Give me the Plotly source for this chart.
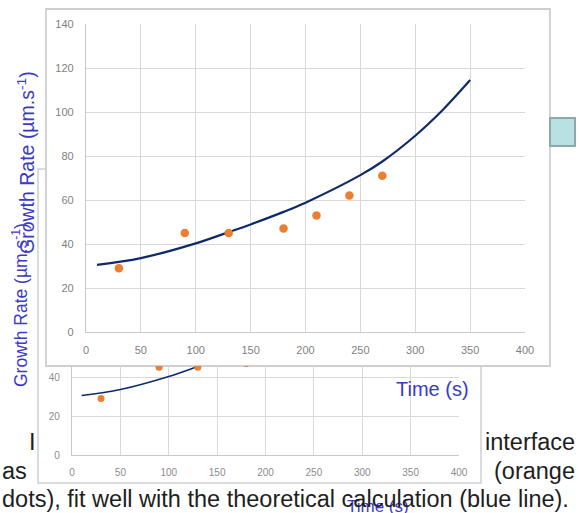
import plotly.graph_objects as go

W, H = 579, 513

# ---- data ----
time_pts = [30, 90, 130, 180, 210, 240, 270]
rate_pts = [29, 45, 45, 47, 53, 62, 71]
time_fit = [10, 50, 100, 130, 150, 180, 200, 250, 270, 300, 325, 350]
rate_fit = [30.5, 33.6, 40.3, 45.4, 48.9, 54.6, 58.8, 71.3, 77.5, 89.2, 100.9, 114.5]
x_ticks = [0, 50, 100, 150, 200, 250, 300, 350, 400]
y_ticks_main = [0, 20, 40, 60, 80, 100, 120, 140]
y_ticks_back = [0, 20, 40]

ORANGE = "#ED7D31"
NAVY = "#0E2A6A"
BLUE = "#3A3AC8"
GRID = "#D9D9D9"
TICK = "#7F7F7F"
FONT = "Liberation Sans"


def fx(p):
    return p / W


def fy(p):
    return 1 - p / H


fig = go.Figure()

# background (partly hidden) chart
fig.add_trace(go.Scatter(x=time_fit, y=rate_fit, mode="lines", line=dict(color=NAVY, width=1.6, shape="spline"),
                         xaxis="x2", yaxis="y2", hoverinfo="skip"))
fig.add_trace(go.Scatter(x=time_pts, y=rate_pts, mode="markers", marker=dict(color=ORANGE, size=7),
                         xaxis="x2", yaxis="y2", hoverinfo="skip"))
# main chart
fig.add_trace(go.Scatter(x=time_fit, y=rate_fit, mode="lines", line=dict(color=NAVY, width=2.2, shape="spline"),
                         xaxis="x", yaxis="y"))
fig.add_trace(go.Scatter(x=time_pts, y=rate_pts, mode="markers", marker=dict(color=ORANGE, size=8.5),
                         xaxis="x", yaxis="y"))

axis_common = dict(showgrid=True, gridcolor=GRID, gridwidth=1.3, zeroline=False, ticks="",
                   showline=True, linecolor="#C8C8C8", linewidth=1.3, fixedrange=True, automargin=False)

fig.update_layout(
    width=W, height=H, margin=dict(l=0, r=0, t=0, b=0, autoexpand=False),
    paper_bgcolor="white", plot_bgcolor="white", showlegend=False,
    xaxis=dict(domain=[fx(86), fx(525)], range=[0, 400], tickvals=x_ticks, anchor="y",
               tickfont=dict(family=FONT, size=11, color=TICK), ticklabelstandoff=8, **axis_common),
    yaxis=dict(domain=[fy(332), fy(24)], range=[0, 140], tickvals=y_ticks_main, anchor="x",
               tickfont=dict(family=FONT, size=11, color=TICK), ticklabelstandoff=9, **axis_common),
    xaxis2=dict(domain=[fx(72), fx(459)], range=[0, 400], tickvals=x_ticks, anchor="y2",
                tickfont=dict(family=FONT, size=10, color="#8C8C8C"), ticklabelstandoff=8, **axis_common),
    yaxis2=dict(domain=[fy(455), fy(366)], range=[0, (455 - 366) / 1.95], tickvals=y_ticks_back, anchor="x2",
                tickfont=dict(family=FONT, size=10, color="#8C8C8C"), ticklabelstandoff=9, **axis_common),
)

shapes = [
    # background chart frame
    dict(type="rect", xref="paper", yref="paper", x0=fx(38), x1=fx(481), y0=fy(483), y1=fy(169),
         line=dict(color="#CFCFCF", width=1.5), fillcolor="white", layer="below"),
    # main chart frame
    dict(type="rect", xref="paper", yref="paper", x0=fx(46), x1=fx(550), y0=fy(366), y1=fy(9),
         line=dict(color="#CFCFCF", width=1.8), fillcolor="white", layer="below"),
    # teal box at right
    dict(type="rect", xref="paper", yref="paper", x0=fx(550), x1=fx(575), y0=fy(146), y1=fy(118),
         line=dict(color="#8CA8A8", width=2), fillcolor="#B9E0E3", layer="below"),
]
fig.update_layout(shapes=shapes)

ann = []
# background chart titles
ann.append(dict(text="Growth Rate (µm.s<sup>-1</sup>)", x=fx(20), y=fy(305), textangle=-90,
                font=dict(family=FONT, size=17.5, color=BLUE)))
ann.append(dict(text="Time (s)", x=fx(378), y=fy(506), font=dict(family=FONT, size=17, color=BLUE)))
# main chart titles
ann.append(dict(text="Growth Rate (µm.s<sup>-1</sup>)", x=fx(26), y=fy(163), textangle=-90,
                font=dict(family=FONT, size=19.5, color=BLUE)))
ann.append(dict(text="Time (s)", x=fx(432), y=fy(389), font=dict(family=FONT, size=20, color=BLUE)))
# surrounding body text
BODY = dict(family=FONT, size=23.5, color="#1E1E1E")
ann.append(dict(text="I", x=fx(38), y=fy(442), xanchor="right", font=BODY))
ann.append(dict(text="interface", x=fx(577), y=fy(442), xanchor="right", font=BODY))
ann.append(dict(text="as", x=fx(0), y=fy(471), xanchor="left", font=BODY))
ann.append(dict(text="(orange", x=fx(577), y=fy(471), xanchor="right", font=BODY))
ann.append(dict(text="dots), fit well with the theoretical calculation (blue line).", x=fx(0), y=fy(499),
                xanchor="left", font=BODY))

for a in ann:
    a.setdefault("xanchor", "center")
    a.setdefault("yanchor", "middle")
    a.update(xref="paper", yref="paper", showarrow=False)
fig.update_layout(annotations=ann)

fig.write_html("out.html", config={"displayModeBar": False},
               post_script="document.body.style.margin='0';document.body.style.overflow='hidden';")
